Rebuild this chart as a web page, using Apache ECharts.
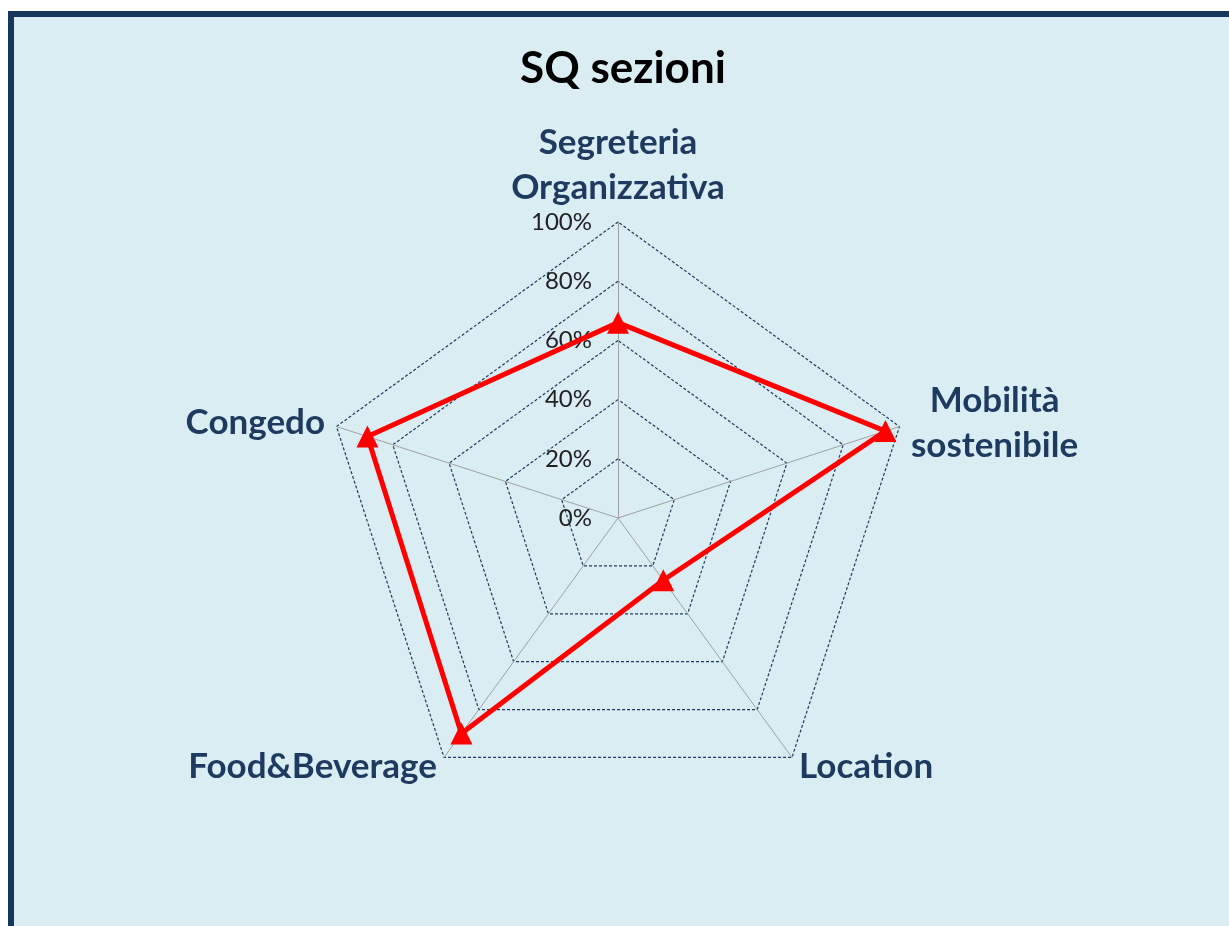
<!DOCTYPE html>
<html>
<head>
<meta charset="utf-8">
<script src="https://cdn.jsdelivr.net/npm/echarts@6/dist/echarts.min.js"></script>
<style>
  html, body { margin: 0; padding: 0; background: #ffffff; overflow: hidden; }
  #frame { position: absolute; left: 8px; top: 11px; width: 1300px; height: 1000px;
           background: #DAEDF3; border-left: 6px solid #17365D; border-top: 6px solid #17365D; }
  #chart { position: absolute; left: 0; top: 0; width: 1229px; height: 926px; }
</style>
</head>
<body>
<div id="frame"></div>
<div id="chart"></div>
<script>
// Data in clockwise order starting from the top
const titleText = 'SQ sezioni';
const categories = ['Segreteria\nOrganizzativa', 'Mobilità\nsostenibile', 'Location', 'Food&Beverage', 'Congedo'];
const values = [66, 95, 26, 90, 89];
const axisMax = 100;

// ECharts lays indicators counter-clockwise; reorder to draw clockwise
const order = [0, 4, 3, 2, 1];
const indCats = order.map(i => categories[i]);
const indVals = order.map(i => values[i]);

const chart = echarts.init(document.getElementById('chart'), null, { renderer: 'canvas' });
const nameColor = '#1F3A5F';

chart.setOption({
  backgroundColor: 'transparent',
  animation: false,
  title: {
    text: titleText,
    left: 515,
    top: 42,
    textStyle: { fontFamily: 'Lato', fontWeight: 'bold', fontSize: 44, color: '#000000' }
  },
  radar: {
    center: [618, 518],
    radius: 296,
    startAngle: 90,
    shape: 'polygon',
    splitNumber: 5,
    indicator: indCats.map((c, i) => i === 0
      ? { name: c, min: 0, max: axisMax }
      : { name: c, min: 0, max: axisMax, axisLabel: { show: false } }),
    axisName: {
      fontFamily: 'Lato',
      fontWeight: 'bold',
      fontSize: 35,
      color: nameColor,
      lineHeight: 45,
      formatter: function (name) {
        return name.split('\n').map(l => '{a|' + l + '}').join('\n');
      },
      rich: {
        a: { fontFamily: 'Lato', fontWeight: 'bold', fontSize: 35, color: nameColor, lineHeight: 45, align: 'center' }
      }
    },
    nameGap: 12,
    axisLine: { show: true, lineStyle: { color: '#A0A0A0', width: 1 } },
    splitLine: { show: true, lineStyle: { color: '#1F3A60', width: 1.2, type: [3, 2] } },
    splitArea: { show: false },
    axisTick: { show: false },
    axisLabel: {
      show: true,
      margin: 26,
      fontFamily: 'Lato',
      fontSize: 24,
      color: '#222222',
      formatter: function (v) { return Math.round(v) + '%'; }
    }
  },
  series: [{
    type: 'radar',
    symbol: 'triangle',
    symbolSize: 22,
    lineStyle: { color: '#FF0000', width: 5 },
    itemStyle: { color: '#FF0000' },
    data: [{ value: indVals, name: titleText }]
  }]
});
</script>
</body>
</html>
